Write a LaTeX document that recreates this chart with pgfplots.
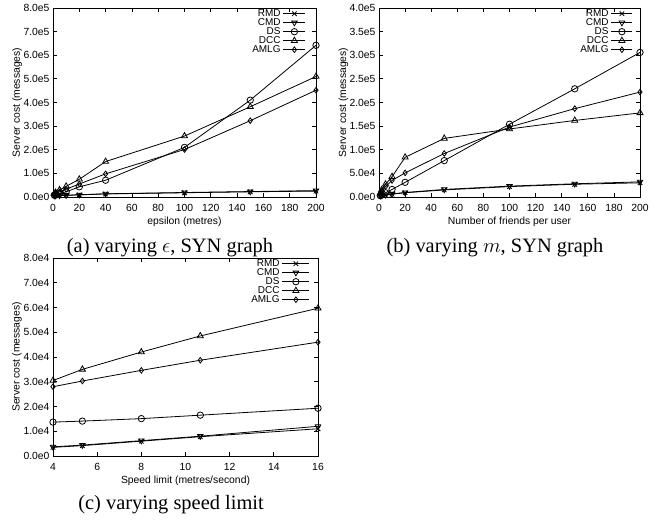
\documentclass[border=0pt]{standalone}
\usepackage{fontspec}
\setmainfont{Liberation Serif}
\setsansfont{Liberation Sans}
\usepackage{pgfplots}
\usepackage{pgfplotstable}
\pgfplotsset{compat=1.18}

% server cost, SYN graph, varying epsilon
\pgfplotstableread{
x     rmd    cmd    ds     dcc    amlg
1     5000   5500   8000   14000  11000
2     5500   6000   10000  19000  15000
5     6000   6500   15000  30000  22000
10    7000   7500   22000  45000  33000
20    9000   9500   43000  75000  55000
40    13000  13500  71000  150000 98000
100   18000  19000  210000 258000 201000
150   22000  23000  410000 382000 323000
200   25000  27000  642000 510000 452000
}\dataa

% varying m
\pgfplotstableread{
x    rmd   cmd   ds     dcc    amlg
1    2000  2500  3000   8000   6000
2    3000  3500  5000   15000  12000
5    4000  4500  9000   27000  22000
10   6000  6500  16000  43000  35000
20   9000  9500  31000  84000  51000
50   15000 16000 77000  124000 92000
100  22000 23000 154000 144000 148000
150  27000 28000 229000 162000 187000
200  30000 32000 306000 178000 222000
}\datab

% varying speed limit
\pgfplotstableread{
x      rmd    cmd    ds     dcc    amlg
4      3500   3700   13700  30500  28000
5.33   4200   4400   14100  35000  30300
8      6000   6200   15100  42000  34600
10.67  7800   8000   16500  48500  38700
16     11000  12000  19300  59700  46000
}\datac

\pgfplotsset{
  gpaxis/.style={
    scale only axis, clip=false,
    font=\sffamily\fontsize{10.4}{11}\selectfont,
    tick align=inside, major tick length=4bp,
    axis line style={line width=0.8bp},
    every tick/.style={black, line width=0.8bp},
    /pgf/number format/assume math mode=true,
    scaled y ticks=false,
    ylabel={Server cost (messages)},
    every axis y label/.style={at={(axis description cs:-0.136,0.5)}, rotate=90, anchor=center},
    every axis x label/.style={at={(axis description cs:0.5,0)}, anchor=center, yshift=-25bp},
    xticklabel style={anchor=center, yshift=-11bp},
    legend cell align=right, legend plot pos=right,
    legend style={draw=none, fill=none, at={(rel axis cs:1,1)}, anchor=north east,
      yshift=-1bp, inner sep=0pt, row sep=0pt, column sep=2bp,
      font=\sffamily\fontsize{10}{11}\selectfont,
      nodes={inner sep=0.5bp, text height=7.2bp, text depth=0.8bp}},
    every axis plot/.append style={black, line width=0.8bp, mark size=3.2bp},
  },
  gpkey/.style={legend image code/.code={%
    \draw[mark repeat=2, mark phase=2, ##1] plot coordinates {(0bp,0bp) (#1/2,0bp) (#1,0bp)};}},
}

\newcommand\fiveplots[1]{%
  \addplot[mark=x] table[x=x, y=rmd] {#1};
  \addplot[mark=triangle, mark options={rotate=180}] table[x=x, y=cmd] {#1};
  \addplot[mark=o] table[x=x, y=ds] {#1};
  \addplot[mark=triangle, mark size=3.5bp] table[x=x, y=dcc] {#1};
  \addplot[mark=diamond, mark size=2.8bp] table[x=x, y=amlg] {#1};
  \legend{RMD, CMD, DS, DCC, AMLG}}

\begin{document}
\begin{tikzpicture}
\path[use as bounding box] (0bp,0bp) rectangle (662bp,520bp);

\begin{axis}[gpaxis, gpkey=22bp, at={(53bp,323bp)}, anchor=south west,
  width=263bp, height=189bp,
  xmin=0, xmax=200, xtick={0,20,...,200},
  ymin=0, ymax=800000, ytick={0,100000,200000,300000,400000,500000,600000,700000,800000},
  yticklabels={0.0e0,1.0e5,2.0e5,3.0e5,4.0e5,5.0e5,6.0e5,7.0e5,8.0e5},
  xlabel={epsilon (metres)}, legend style={xshift=-10bp}]
\fiveplots{\dataa}
\end{axis}

\begin{axis}[gpaxis, gpkey=21bp, at={(379bp,323bp)}, anchor=south west,
  width=261bp, height=189bp,
  xmin=0, xmax=200, xtick={0,20,...,200},
  ymin=0, ymax=400000, ytick={0,50000,100000,150000,200000,250000,300000,350000,400000},
  yticklabels={0.0e0,5.0e4,1.0e5,1.5e5,2.0e5,2.5e5,3.0e5,3.5e5,4.0e5},
  xlabel={Number of friends per user}, legend style={xshift=-7bp}]
\fiveplots{\datab}
\end{axis}

\begin{axis}[gpaxis, gpkey=27bp, at={(53bp,64bp)}, anchor=south west,
  width=265bp, height=198bp,
  xmin=4, xmax=16, xtick={4,6,...,16},
  ymin=0, ymax=80000, ytick={0,10000,20000,30000,40000,50000,60000,70000,80000},
  yticklabels={0.0e0,1.0e4,2.0e4,3.0e4,4.0e4,5.0e4,6.0e4,7.0e4,8.0e4},
  xlabel={Speed limit (metres/second)}, legend style={xshift=-8bp}]
\fiveplots{\datac}
\end{axis}

\node[anchor=base, font=\rmfamily\fontsize{20.5}{22}\selectfont] at (170bp,267.5bp) {(a) varying $\epsilon$, SYN graph};
\node[anchor=base, font=\rmfamily\fontsize{20.5}{22}\selectfont] at (495bp,267.5bp) {(b) varying $m$, SYN graph};
\node[anchor=base, font=\rmfamily\fontsize{20.5}{22}\selectfont] at (171bp,10.5bp) {(c) varying speed limit};
\end{tikzpicture}
\end{document}
